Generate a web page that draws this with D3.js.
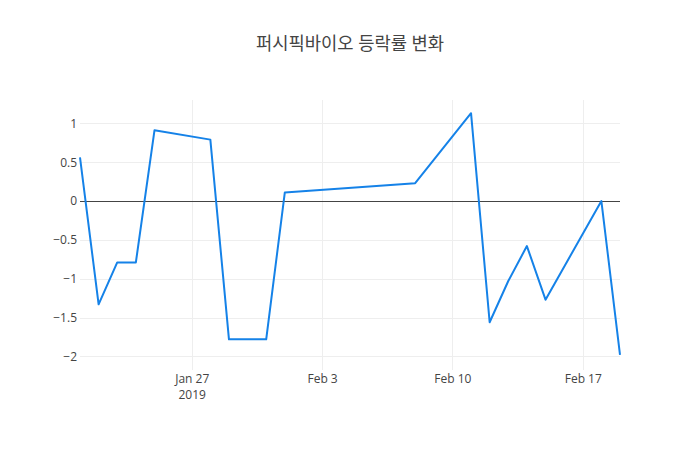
<!DOCTYPE html>
<html>
<head>
<meta charset="utf-8">
<script src="https://cdn.jsdelivr.net/npm/d3@7"></script>
<style>
  html, body { margin: 0; padding: 0; background: #fff; }
  svg { display: block; }
</style>
</head>
<body>
<div id="chart"></div>
<script>
const title = "퍼시픽바이오 등락률 변화";
const dates = ["2019-01-21","2019-01-22","2019-01-23","2019-01-24","2019-01-25","2019-01-28","2019-01-29","2019-01-31","2019-02-01","2019-02-08","2019-02-11","2019-02-12","2019-02-13","2019-02-14","2019-02-15","2019-02-18","2019-02-19"];
const changes = [0.56, -1.33, -0.79, -0.79, 0.91, 0.79, -1.78, -1.78, 0.11, 0.23, 1.13, -1.56, -1.03, -0.58, -1.27, 0.00, -1.98];
const yTicks = [-2, -1.5, -1, -0.5, 0, 0.5, 1];
const xTickDates = ["2019-01-27","2019-02-03","2019-02-10","2019-02-17"];
const xTickLabels = [["Jan 27","2019"],["Feb 3"],["Feb 10"],["Feb 17"]];

const W = 700, H = 450;
const m = {l: 80, r: 80, t: 100, b: 80};
const parse = d3.utcParse("%Y-%m-%d");
const data = dates.map((d, i) => ({date: parse(d), v: changes[i]}));

const svg = d3.select("#chart").append("svg").attr("width", W).attr("height", H);
const font = "'Open Sans', 'Noto Sans CJK KR', sans-serif";

const x = d3.scaleUtc()
  .domain(d3.extent(data, d => d.date))
  .range([m.l, W - m.r]);
const y = d3.scaleLinear()
  .domain([-2.175, 1.30])
  .range([H - m.b, m.t]);

const snap = v => Math.round(v) + 0.5;

// grid
const g = svg.append("g");
g.selectAll(".hg").data(yTicks.filter(t => t !== 0)).join("line")
  .attr("x1", m.l).attr("x2", W - m.r)
  .attr("y1", d => snap(y(d))).attr("y2", d => snap(y(d)))
  .attr("stroke", "#eee").attr("stroke-width", 1);
g.selectAll(".vg").data(xTickDates).join("line")
  .attr("x1", d => snap(x(parse(d)))).attr("x2", d => snap(x(parse(d))))
  .attr("y1", m.t).attr("y2", H - m.b)
  .attr("stroke", "#eee").attr("stroke-width", 1);

// zero line
g.append("line")
  .attr("x1", m.l).attr("x2", W - m.r)
  .attr("y1", snap(y(0))).attr("y2", snap(y(0)))
  .attr("stroke", "#444").attr("stroke-width", 1);

// y axis labels
const yAxis = d3.axisLeft(y).tickValues(yTicks).tickSize(0).tickPadding(0)
  .tickFormat(d => d3.format("")(d).replace("-", "\u2212"));
svg.append("g").attr("transform", `translate(${m.l - 3},0)`).call(yAxis)
  .call(s => s.select(".domain").remove())
  .call(s => s.selectAll("text").attr("font-family", font).attr("font-size", 12).attr("fill", "#444"));

// x axis labels
const xAxis = d3.axisBottom(x).tickValues(xTickDates.map(parse)).tickSize(0).tickPadding(0)
  .tickFormat(() => "");
const xg = svg.append("g").attr("transform", `translate(0,${H - m.b})`).call(xAxis);
xg.select(".domain").remove();
xg.selectAll(".tick").each(function(d, i) {
  const t = d3.select(this).select("text")
    .attr("font-family", font).attr("font-size", 12).attr("fill", "#444")
    .attr("y", 0).attr("dy", 0);
  xTickLabels[i].forEach((ln, j) => {
    t.append("tspan").attr("x", 0).attr("y", 13 + j * 16).text(ln);
  });
});

// line
const line = d3.line().x(d => x(d.date)).y(d => y(d.v));
svg.append("path").datum(data)
  .attr("d", line)
  .attr("fill", "none")
  .attr("stroke", "#1582e8")
  .attr("stroke-width", 2)
  .attr("stroke-linejoin", "round");

// title
svg.append("text")
  .attr("x", W / 2).attr("y", 50)
  .attr("text-anchor", "middle")
  .attr("font-family", font)
  .attr("font-size", 17.7)
  .attr("fill", "#444")
  .text(title);
</script>
</body>
</html>
